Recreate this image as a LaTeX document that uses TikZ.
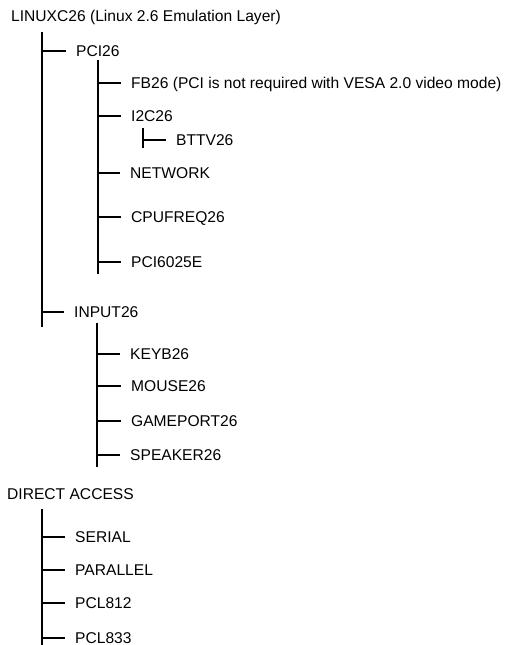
\documentclass[tikz,border=0pt]{standalone}
\usepackage{fontspec}
\setmainfont{Liberation Sans}
\usetikzlibrary{positioning,calc}

\begin{document}
\begin{tikzpicture}[
        x=1pt, y=-1pt,
        every node/.style={font=\fontsize{15.6}{18}\selectfont},
        head/.style={anchor=west, inner xsep=0pt, inner ysep=0pt, text height=11pt, text depth=0pt},
        item/.style={anchor=west, inner xsep=10pt, inner ysep=0pt, text height=11pt, text depth=0pt},
        trunk/.style={line width=1.8pt},
        twig/.style={line width=1.8pt},
    ]
        \useasboundingbox (0,0) rectangle (509,645);

        % Top level groups
        \node[head] (linux) at (11,16) {LINUXC26 (Linux 2.6 Emulation Layer)};
        \node[head] (direct) at (7,494) {DIRECT ACCESS};

        % Under LINUXC26
        \node[item] (pci) at (66,51) {PCI26};
        \node[item] (input) at (64,312) {INPUT26};

        % Under PCI26
        \node[item] (fb) at (121,83) {FB26 (PCI is not required with VESA 2.0 video mode)};
        \node[item] (i2c) at (121,116) {I2C26};
        \node[item] (network) at (120,173) {NETWORK};
        \node[item] (cpufreq) at (121,217) {CPUFREQ26};
        \node[item] (pcidaq) at (121,262) {PCI6025E};

        % Under I2C26
        \node[item] (bttv) at (166,140) {BTTV26};

        % Under INPUT26
        \node[item] (keyb) at (120,354) {KEYB26};
        \node[item] (mouse) at (121,386) {MOUSE26};
        \node[item] (gameport) at (121,421) {GAMEPORT26};
        \node[item] (speaker) at (120,455) {SPEAKER26};

        % Under DIRECT ACCESS
        \node[item] (serial) at (65,537) {SERIAL};
        \node[item] (parallel) at (65,570) {PARALLEL};
        \node[item] (pcla) at (65,603) {PCL812};
        \node[item] (pclb) at (65,638) {PCL833};

        % Trunks
        \coordinate (linuxTop) at (42,32);
        \coordinate (linuxEnd) at (42,327);
        \coordinate (pciTop) at (98,60);
        \coordinate (pciEnd) at (98,274);
        \coordinate (i2cTop) at (143,128);
        \coordinate (i2cEnd) at (143,148);
        \coordinate (inputTop) at (97,323);
        \coordinate (inputEnd) at (97,467);
        \coordinate (directTop) at (42,509);
        \coordinate (directEnd) at (42,645);

        \draw[trunk] (linuxTop) -- (linuxEnd);
        \draw[trunk] (pciTop) -- (pciEnd);
        \draw[trunk] (i2cTop) -- (i2cEnd);
        \draw[trunk] (inputTop) -- (inputEnd);
        \draw[trunk] (directTop) -- (directEnd);

        % Branches
        \foreach \kid in {pci, input} {
            \draw[twig] (linuxTop |- \kid.west) -- (\kid.west);
        }
        \foreach \kid in {fb, i2c, network, cpufreq, pcidaq} {
            \draw[twig] (pciTop |- \kid.west) -- (\kid.west);
        }
        \draw[twig] (i2cTop |- bttv.west) -- (bttv.west);
        \foreach \kid in {keyb, mouse, gameport, speaker} {
            \draw[twig] (inputTop |- \kid.west) -- (\kid.west);
        }
        \foreach \kid in {serial, parallel, pcla, pclb} {
            \draw[twig] (directTop |- \kid.west) -- (\kid.west);
        }

    \end{tikzpicture}
\end{document}
